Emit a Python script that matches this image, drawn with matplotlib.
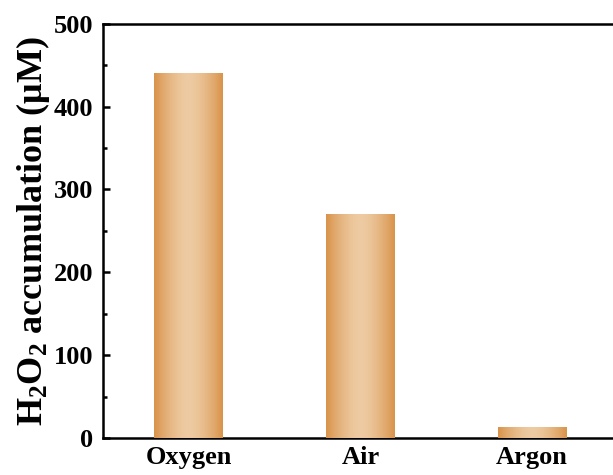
import numpy as np
import matplotlib
matplotlib.use("Agg")
import matplotlib.pyplot as plt
from matplotlib.colors import LinearSegmentedColormap

# gas atmosphere vs. H2O2 produced
gases = ["Oxygen", "Air", "Argon"]
h2o2 = [440, 270, 13]
y_ticks = [0, 100, 200, 300, 400, 500]

EDGE = "#d8934a"
MID = "#eecba3"

plt.rcParams["font.family"] = ["Liberation Serif", "DejaVu Serif"]
plt.rcParams["font.weight"] = "bold"
plt.rcParams["mathtext.fontset"] = "custom"
plt.rcParams["mathtext.rm"] = "Liberation Serif:bold"
plt.rcParams["mathtext.it"] = "Liberation Serif:bold"
plt.rcParams["mathtext.bf"] = "Liberation Serif:bold"

fig = plt.figure(figsize=(6.13, 4.75), dpi=100, facecolor="white")
ax = fig.add_axes([0.168, 0.078, 0.840, 0.872])

x = np.arange(len(gases))
bars = ax.bar(x, h2o2, width=0.4, color=EDGE, linewidth=0, zorder=2)

# horizontal shading on each bar: dark edges, light centre
shade = LinearSegmentedColormap.from_list("shade", [EDGE, MID])
t = np.linspace(-1, 1, 256)
grad = (1 - np.abs(t) ** 1.6).reshape(1, -1)
for b in bars:
    x0, y0 = b.get_x(), b.get_y()
    w, h = b.get_width(), b.get_height()
    im = ax.imshow(grad, cmap=shade, aspect="auto", extent=[x0, x0 + w, y0, y0 + h],
                   interpolation="bicubic", zorder=3)
    im.set_clip_path(b)

ax.set_xlim(-0.5, 2.5)
ax.set_ylim(0, 500)
ax.set_xticks(x)
ax.set_xticklabels(gases)
ax.set_yticks(y_ticks)
ax.set_yticks(np.arange(50, 500, 100), minor=True)

for s in ax.spines.values():
    s.set_linewidth(1.8)

ax.tick_params(axis="both", which="major", direction="in", length=5, width=1.8, labelsize=19)
ax.tick_params(axis="y", which="minor", direction="in", length=3, width=1.8)
ax.tick_params(axis="y", which="major", pad=7)
ax.tick_params(axis="x", which="major", pad=6)

ax.set_ylabel(r"H$_2$O$_2$ accumulation ($\mathrm{\mu}$M)", fontsize=26, fontweight="bold", labelpad=1)

fig.savefig("out.png", dpi=100)
